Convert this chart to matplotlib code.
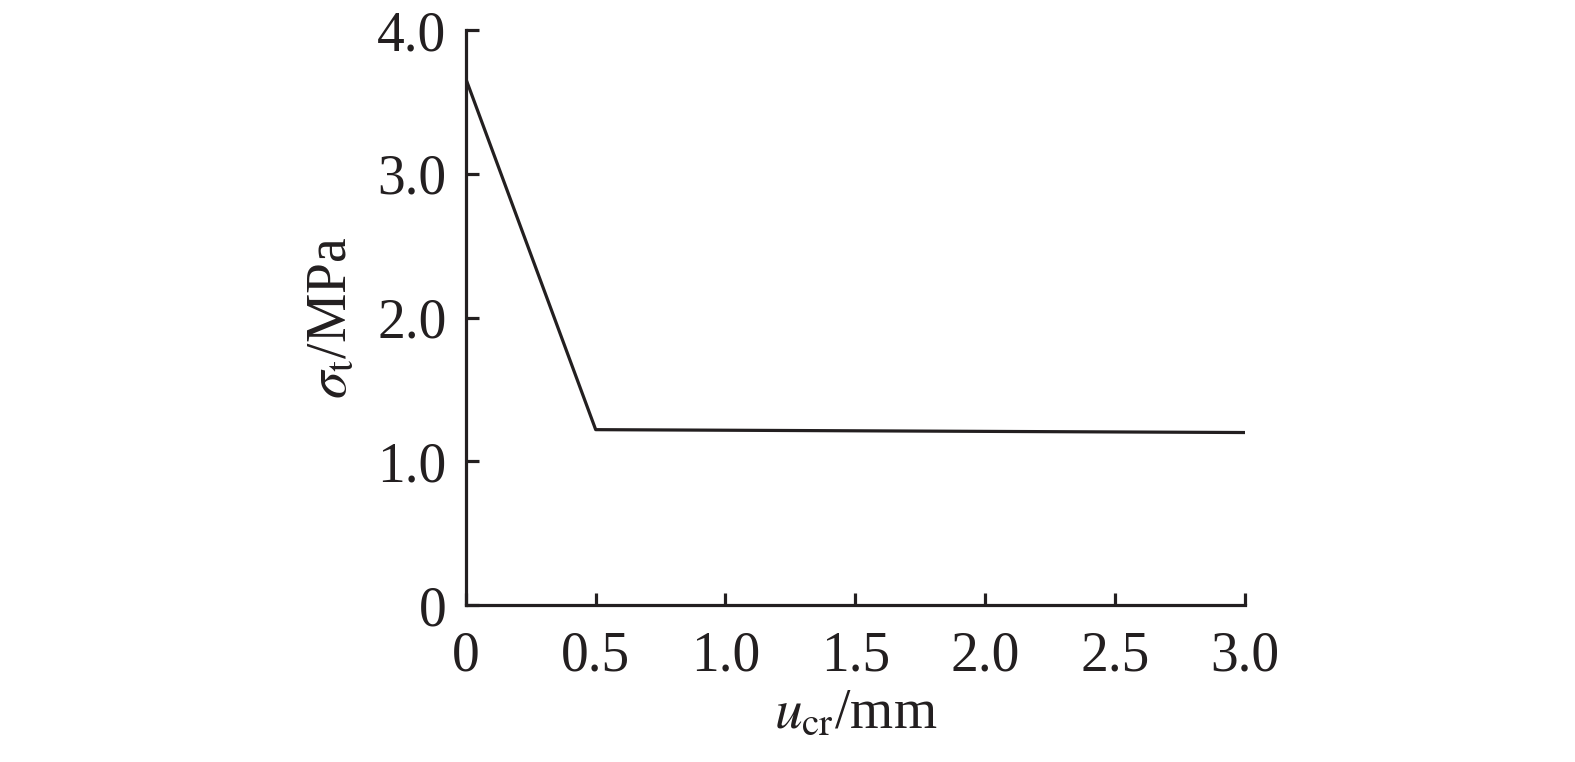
import matplotlib
matplotlib.use("Agg")
import matplotlib.pyplot as plt

# данные
u_cr = [0.0, 0.5, 3.0]
sigma_t = [3.66, 1.22, 1.20]

x_ticks = [0, 0.5, 1.0, 1.5, 2.0, 2.5, 3.0]
x_labels = ["0", "0.5", "1.0", "1.5", "2.0", "2.5", "3.0"]
y_ticks = [0, 1.0, 2.0, 3.0, 4.0]
y_labels = ["0", "1.0", "2.0", "3.0", "4.0"]

plt.rcParams['font.family'] = ['Liberation Serif', 'DejaVu Serif']
plt.rcParams['mathtext.fontset'] = 'stix'

fig = plt.figure(figsize=(15.75, 7.62), dpi=100)
ax = fig.add_axes([0.2958, 0.2060, 0.4945, 0.7546])

ax.plot(u_cr, sigma_t, color='#231f20', linewidth=2.3)

ax.set_xlim(0, 3.0)
ax.set_ylim(0, 4.0)
ax.set_xticks(x_ticks)
ax.set_xticklabels(x_labels)
ax.set_yticks(y_ticks)
ax.set_yticklabels(y_labels)

for s in ['top', 'right']:
    ax.spines[s].set_visible(False)
for s in ['left', 'bottom']:
    ax.spines[s].set_linewidth(2.3)
    ax.spines[s].set_color('#231f20')

ax.tick_params(axis='both', direction='in', length=9, width=2.3,
               labelsize=40, colors='#231f20')
ax.tick_params(axis='x', pad=18)
ax.tick_params(axis='y', pad=14)

ax.set_xlabel(r"$u_{\mathrm{cr}}$/mm", fontsize=40, color='#231f20', labelpad=4)
ax.set_ylabel(r"$\sigma_{\mathrm{t}}$/MPa", fontsize=40, color='#231f20', labelpad=14)

fig.savefig("out.png", dpi=100)
